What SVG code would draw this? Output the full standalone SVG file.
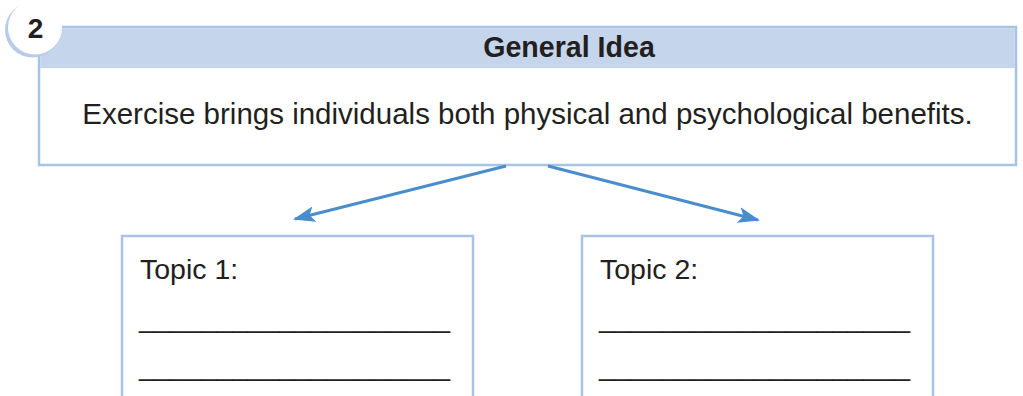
<svg xmlns="http://www.w3.org/2000/svg" width="1023" height="396" viewBox="0 0 1023 396">
<style>
.box{fill:#ffffff;stroke:#a9c3e6;stroke-width:2.5}
.txt{font-family:"Liberation Sans",Arial,sans-serif;fill:#231f20}
.conn{stroke:#4a8dcd;stroke-width:3;fill:none}
</style>
<defs>
<marker id="ah" markerWidth="22" markerHeight="16" viewBox="0 0 22 16" refX="20" refY="8" orient="auto" markerUnits="userSpaceOnUse">
<path d="M0,0 L22,8 L0,16 L5,8 Z" fill="#4a8dcd"/>
</marker>
</defs>
<rect width="1023" height="396" fill="#ffffff"/>
<g id="general-idea">
<rect class="box" x="39" y="27" width="977" height="138"/>
<rect x="40.2" y="28.2" width="974.6" height="40" fill="#c5d5ec"/>
<text class="txt" x="569" y="57" font-size="28.6" font-weight="bold" text-anchor="middle">General Idea</text>
<text class="txt" x="527.5" y="123.5" font-size="29.5" text-anchor="middle">Exercise brings individuals both physical and psychological benefits.</text>
</g>
<g id="badge">
<circle cx="32.5" cy="30" r="27.5" fill="#b7cce9"/>
<circle cx="35" cy="27.5" r="27" fill="#ffffff"/>
<text class="txt" x="35.5" y="38" font-size="28" font-weight="bold" text-anchor="middle">2</text>
</g>
<g id="connectors">
<line class="conn" x1="506" y1="166" x2="295" y2="219" marker-end="url(#ah)"/>
<line class="conn" x1="548" y1="166" x2="758" y2="220" marker-end="url(#ah)"/>
</g>
<g id="topic1">
<rect class="box" x="122" y="236" width="351" height="180"/>
<text class="txt" x="140" y="279" font-size="28.5">Topic 1:</text>
<text class="txt" x="139" y="327" font-size="28.5" textLength="311" lengthAdjust="spacingAndGlyphs">____________________</text>
<text class="txt" x="139" y="375" font-size="28.5" textLength="311" lengthAdjust="spacingAndGlyphs">____________________</text>
</g>
<g id="topic2">
<rect class="box" x="582" y="236" width="351" height="180"/>
<text class="txt" x="600" y="279" font-size="28.5">Topic 2:</text>
<text class="txt" x="599" y="327" font-size="28.5" textLength="311" lengthAdjust="spacingAndGlyphs">____________________</text>
<text class="txt" x="599" y="375" font-size="28.5" textLength="311" lengthAdjust="spacingAndGlyphs">____________________</text>
</g>
</svg>
